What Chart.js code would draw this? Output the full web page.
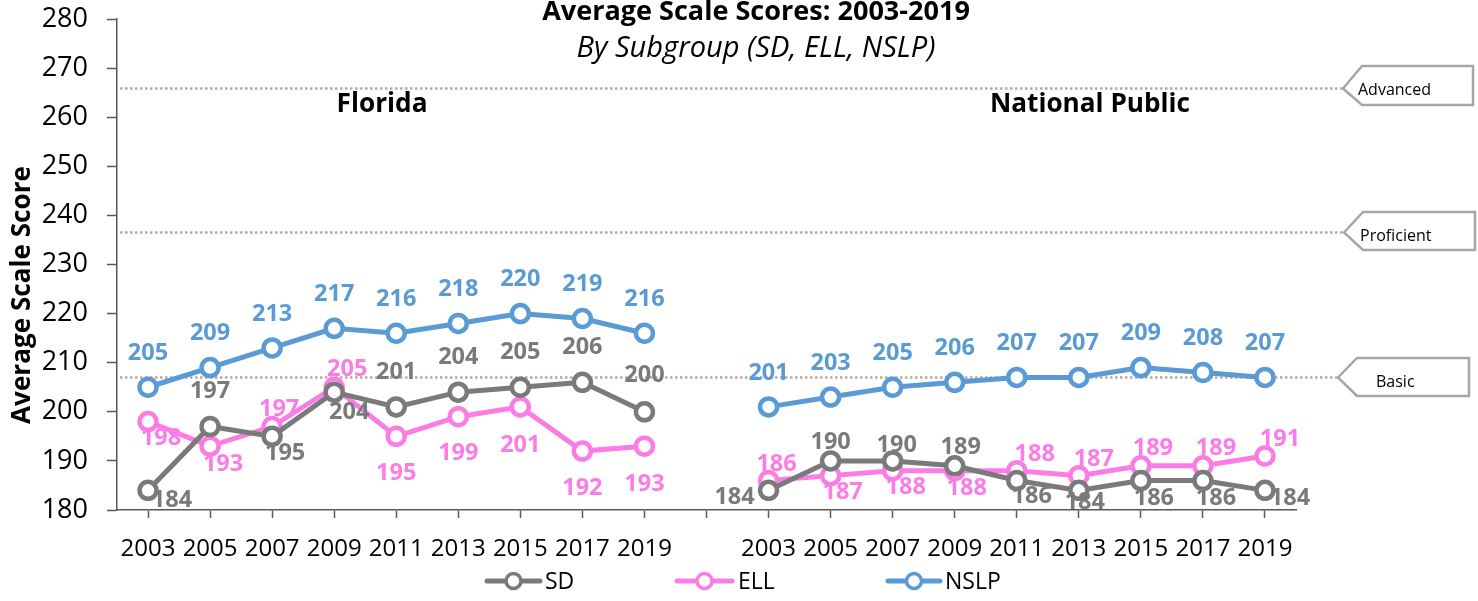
<!DOCTYPE html>
<html>
<head>
<meta charset="utf-8">
<script src="https://cdn.jsdelivr.net/npm/chart.js@4.4.1/dist/chart.umd.min.js"></script>
<style>
  html, body { margin: 0; padding: 0; background: #ffffff; }
  #wrap { width: 1478px; height: 601px; }
</style>
</head>
<body>
<div id="wrap"><canvas id="c" width="1478" height="601"></canvas></div>
<script>
// ---------- data ----------
const years = ['2003','2005','2007','2009','2011','2013','2015','2017','2019'];
const categories = years.concat([''], years);

const flSD   = [184, 197, 195, 204, 201, 204, 205, 206, 200];
const flELL  = [198, 193, 197, 205, 195, 199, 201, 192, 193];
const flNSLP = [205, 209, 213, 217, 216, 218, 220, 219, 216];

const npSD   = [184, 190, 190, 189, 186, 184, 186, 186, 184];
const npELL  = [186, 187, 188, 188, 188, 187, 189, 189, 191];
const npNSLP = [201, 203, 205, 206, 207, 207, 209, 208, 207];

const achievementLevels = ['Advanced', 'Proficient', 'Basic'];
const achievementCuts   = [266, 236.6, 207.1];

const yTicks = [180, 190, 200, 210, 220, 230, 240, 250, 260, 270, 280];

// label offsets (dx, dy in px from the point) — styling only
const offSD = [[24,10],[0,-35],[13,17],[15,20],[0,-35],[0,-35],[0,-35],[0,-35],[0,-36], null,
               [-34,7],[0,-19],[4,-16],[6,-18],[15,16],[6,12],[13,18],[13,18],[25,8]];
const offELL = [[13,17],[13,18],[7,-17],[13,-18],[0,37],[0,37],[0,38],[0,37],[0,38], null,
                [8,-16],[12,17],[13,17],[12,18],[18,-16],[15,-16],[12,-17],[13,-17],[15,-17]];
const offNSLP = Array.from({length: 19}, (_, i) => i === 9 ? null : [0, -34]);

const FONT = '"Open Sans", "Liberation Sans", sans-serif';
const colSD = '#7a7a7a', colELL = '#fc7ce6', colNSLP = '#5b9bd5';

const join = (a, b) => a.concat([null], b);

const series = [
  { label: 'SD',   data: join(flSD, npSD),     color: colSD,   off: offSD },
  { label: 'ELL',  data: join(flELL, npELL),   color: colELL,  off: offELL },
  { label: 'NSLP', data: join(flNSLP, npNSLP), color: colNSLP, off: offNSLP }
];

function fitFont(ctx, text, weight, style, target, base) {
  ctx.font = `${style} ${weight} ${base}px ${FONT}`;
  const w = ctx.measureText(text).width;
  return base * target / w;
}

const overlay = {
  id: 'overlay',
  beforeDatasetsDraw(chart) {
    const { ctx, scales: { y } } = chart;
    ctx.save();
    const boxes = [
      { tip: 1343, body: 1362, right: 1473, top: 66,  bot: 105, tx: 1358 },
      { tip: 1344, body: 1363, right: 1475, top: 212, bot: 250, tx: 1360 },
      { tip: 1338, body: 1357, right: 1469, top: 358, bot: 396, tx: 1376 }
    ];
    achievementCuts.forEach((v, i) => {
      const py = Math.round(y.getPixelForValue(v)) + 0.5;
      const b = boxes[i];
      ctx.strokeStyle = '#b5ab9c';
      ctx.lineWidth = 2.5;
      ctx.setLineDash([2.5, 2.5]);
      ctx.beginPath();
      ctx.moveTo(120, py);
      ctx.lineTo(b.tip, py);
      ctx.stroke();
      ctx.setLineDash([]);
      ctx.strokeStyle = '#a6a6a6';
      ctx.lineWidth = 2.5;
      ctx.fillStyle = '#ffffff';
      ctx.beginPath();
      ctx.moveTo(b.tip, py);
      ctx.lineTo(b.body, b.top);
      ctx.lineTo(b.right, b.top);
      ctx.lineTo(b.right, b.bot);
      ctx.lineTo(b.body, b.bot);
      ctx.closePath();
      ctx.fill();
      ctx.stroke();
      ctx.fillStyle = '#000';
      ctx.font = `16px ${FONT}`;
      ctx.textAlign = 'left';
      ctx.textBaseline = 'middle';
      ctx.fillText(achievementLevels[i], b.tx, (b.top + b.bot) / 2 + 5);
    });
    ctx.restore();
  },
  afterDatasetsDraw(chart) {
    const { ctx } = chart;
    ctx.save();
    ctx.textAlign = 'center';
    ctx.textBaseline = 'middle';
    ctx.font = `bold 23.5px ${FONT}`;
    series.forEach((s, di) => {
      const meta = chart.getDatasetMeta(di);
      meta.data.forEach((pt, i) => {
        const v = s.data[i];
        if (v === null || v === undefined) return;
        const o = s.off[i];
        ctx.fillStyle = s.color;
        ctx.fillText(String(Math.round(v)), pt.x + o[0], pt.y + o[1]);
      });
    });

    ctx.fillStyle = '#000';
    ctx.textBaseline = 'alphabetic';
    ctx.textAlign = 'center';
    let fs = fitFont(ctx, 'Average Scale Scores: 2003-2019', 'bold', 'normal', 428, 24);
    ctx.font = `bold ${fs}px ${FONT}`;
    ctx.fillText('Average Scale Scores: 2003-2019', 756, 20);
    fs = fitFont(ctx, 'By Subgroup (SD, ELL, NSLP)', 'normal', 'italic', 359, 24);
    ctx.font = `italic ${fs}px ${FONT}`;
    ctx.fillText('By Subgroup (SD, ELL, NSLP)', 756, 57);
    fs = fitFont(ctx, 'Florida', 'bold', 'normal', 91, 24);
    ctx.font = `bold ${fs}px ${FONT}`;
    ctx.fillText('Florida', 382, 112);
    fs = fitFont(ctx, 'National Public', 'bold', 'normal', 200, 24);
    ctx.font = `bold ${fs}px ${FONT}`;
    ctx.fillText('National Public', 1090, 112);

    fs = fitFont(ctx, 'Average Scale Score', 'bold', 'normal', 258, 22);
    ctx.save();
    ctx.translate(30, 295);
    ctx.rotate(-Math.PI / 2);
    ctx.font = `bold ${fs}px ${FONT}`;
    ctx.textAlign = 'center';
    ctx.textBaseline = 'alphabetic';
    ctx.fillText('Average Scale Score', 0, 0);
    ctx.restore();

    const legendItems = [
      { x0: 487, x1: 540, tx: 545 },
      { x0: 677, x1: 732, tx: 738 },
      { x0: 888, x1: 940, tx: 945 }
    ];
    const ly = 581;
    series.forEach((s, i) => {
      const L = legendItems[i];
      ctx.strokeStyle = s.color;
      ctx.lineWidth = 5;
      ctx.lineCap = 'round';
      ctx.beginPath();
      ctx.moveTo(L.x0, ly);
      ctx.lineTo(L.x1, ly);
      ctx.stroke();
      ctx.lineCap = 'butt';
      ctx.beginPath();
      ctx.arc((L.x0 + L.x1) / 2, ly, 7.5, 0, Math.PI * 2);
      ctx.fillStyle = '#fff';
      ctx.fill();
      ctx.lineWidth = 3.5;
      ctx.stroke();
      ctx.fillStyle = '#000';
      ctx.font = `23px ${FONT}`;
      ctx.textAlign = 'left';
      ctx.textBaseline = 'middle';
      ctx.fillText(s.label, L.tx, ly + 1);
    });
    ctx.restore();
  }
};

const datasets = series.map(s => ({
  label: s.label,
  data: s.data,
  borderColor: s.color,
  backgroundColor: '#ffffff',
  borderWidth: 5,
  pointRadius: 8.5,
  pointBorderWidth: 4.5,
  pointBackgroundColor: '#ffffff',
  pointBorderColor: s.color,
  spanGaps: false,
  tension: 0,
  clip: false
}));

new Chart(document.getElementById('c'), {
  type: 'line',
  data: { labels: categories, datasets },
  options: {
    responsive: false,
    animation: false,
    events: [],
    layout: { padding: { left: 0, right: 182, top: 19, bottom: 41 } },
    plugins: { legend: { display: false }, tooltip: { enabled: false }, title: { display: false } },
    scales: {
      x: {
        type: 'category',
        offset: true,
        grid: { display: true, drawOnChartArea: false, drawTicks: true, tickLength: 8, tickColor: '#595959', tickWidth: 1.5, offset: false },
        border: { display: true, color: '#595959', width: 1.5 },
        ticks: { autoSkip: false, maxRotation: 0, minRotation: 0, padding: 17, color: '#000',
                 font: { family: FONT, size: 24 } },
        afterFit(s) { s.height = 50; s.paddingLeft = 0; s.paddingRight = 0; }
      },
      y: {
        min: 180, max: 280,
        afterBuildTicks(s) { s.ticks = yTicks.map(v => ({ value: v })); },
        grid: { display: true, drawOnChartArea: false, drawTicks: true, tickLength: 10, tickColor: '#595959', tickWidth: 1.5 },
        border: { display: true, color: '#595959', width: 1.5 },
        ticks: { padding: 19, color: '#000', font: { family: FONT, size: 27 } },
        afterFit(s) { s.width = 117; s.paddingTop = 0; s.paddingBottom = 0; }
      }
    }
  },
  plugins: [overlay]
});
</script>
</body>
</html>
